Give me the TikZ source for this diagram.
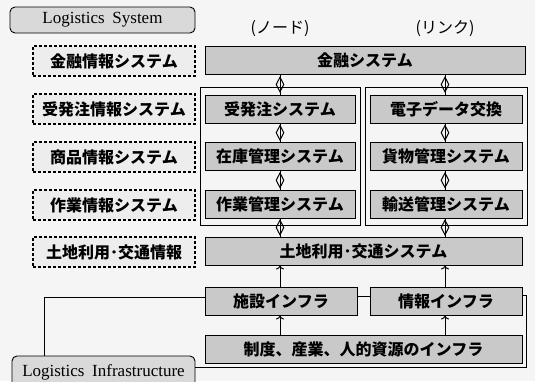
\documentclass[tikz,border=0pt]{standalone}
\usepackage{fontspec}
\setmainfont{Liberation Serif}
\newfontfamily\jp{Noto Sans CJK JP}
\usetikzlibrary{shapes.geometric,arrows.meta,positioning}
\tikzset{
  box/.style={draw=black, line width=1pt, fill=gray!42, minimum height=28pt, inner sep=0pt, font=\jp\bfseries\fontsize{16}{16}\selectfont},
  dbox/.style={draw=black, dashed, dash pattern=on 3pt off 2pt, line width=1.1pt, fill=gray!14, minimum width=162pt, minimum height=30pt, inner sep=0pt, font=\jp\bfseries\fontsize{16}{16}\selectfont},
  rbox/.style={draw=black, line width=0.9pt, rounded corners=5pt, fill=gray!30, inner sep=0pt, font=\fontsize{17}{17}\selectfont},
  frame/.style={draw=black, line width=1pt},
  diam/.style={draw=black, diamond, line width=1pt, inner sep=0pt, minimum width=8pt, minimum height=15pt},
  conn/.style={draw=black, line width=1pt},
  upar/.style={draw=black, line width=1pt, -{To[length=4pt,width=8pt]}},
  lab/.style={font=\jp\fontsize{16}{16}\selectfont}
}
\begin{document}
\begin{tikzpicture}[x=1pt,y=-1pt]
\clip (0,0) rectangle (535,381);
\fill[gray!8] (0,0) rectangle (535,381);
% frames
\draw[frame] (200,87) rectangle (360,225);
\draw[frame] (365,87) rectangle (527,225);
% title boxes
\node[rbox, minimum width=185pt, minimum height=26pt] (ls) at (102.5,20) {Logistics\hspace{0.45em}System};
\node[rbox, minimum width=183pt, minimum height=32pt] (li) at (103.5,372) {Logistics\hspace{0.45em}Infrastructure};
% labels
\node[lab] (node) at (280,29) {(ノード)};
\node[lab] (link) at (445,29) {(リンク)};
% dashed boxes
\node[dbox] (d1) at (114,61) {金融情報システム};
\node[dbox] (d2) at (114,109) {受発注情報システム};
\node[dbox] (d3) at (114,157) {商品情報システム};
\node[dbox] (d4) at (114,205) {作業情報システム};
\node[dbox] (d5) at (114,252) {土地利用･交通情報};
% right boxes
\node[box, minimum width=320pt] (kin) at (365,60) {金融システム};
\node[box, minimum width=150pt] (ju) at (280,109) {受発注システム};
\node[box, minimum width=150pt] (zai) at (280,156.5) {在庫管理システム};
\node[box, minimum width=150pt] (sag) at (280,204) {作業管理システム};
\node[box, minimum width=152pt] (den) at (446,109) {電子データ交換};
\node[box, minimum width=152pt] (kam) at (446,156.5) {貨物管理システム};
\node[box, minimum width=152pt] (yus) at (446,204) {輸送管理システム};
\node[box, minimum width=317pt] (toc) at (363.5,251) {土地利用･交通システム};
\node[box, minimum width=152pt] (shi) at (281,301) {施設インフラ};
\node[box, minimum width=152pt] (joh) at (446,301) {情報インフラ};
\node[box, minimum width=317pt] (sei) at (363.5,349) {制度、産業、人的資源のインフラ};
% diamond connectors
\foreach \a/\b/\x in {kin/ju/280, ju/zai/280, zai/sag/280, sag/toc/280, kin/den/445, den/kam/445, kam/yus/445, yus/toc/445}{
  \draw[conn] (\a.south -| \x,0) -- (\b.north -| \x,0) node[midway, diam] {};
}
% up arrows
\draw[upar] (shi.north -| 280,0) -- (toc.south -| 280,0);
\draw[upar] (joh.north -| 445,0) -- (toc.south -| 445,0);
\draw[upar] (sei.north -| 280,0) -- (shi.south -| 280,0);
\draw[upar] (sei.north -| 445,0) -- (joh.south -| 445,0);
% infrastructure lines
\draw[conn] ([yshift=5pt]shi.east) -- ([yshift=5pt]shi.east -| joh.west);
\draw[conn] ([yshift=4pt]shi.west) -| ([xshift=33pt]li.north west);
\draw[conn] ([yshift=6pt]joh.east) -- ++(4,0) |- ([yshift=5pt]li.east);
\end{tikzpicture}
\end{document}
